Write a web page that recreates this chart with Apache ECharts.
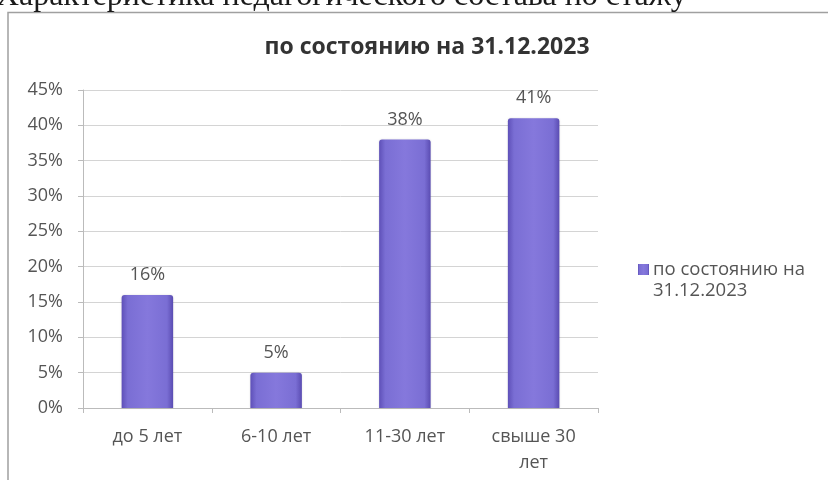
<!DOCTYPE html>
<html><head><meta charset="utf-8">
<script src="https://cdn.jsdelivr.net/npm/echarts@6/dist/echarts.min.js"></script>
<style>html,body{margin:0;padding:0;background:#fff}#c{width:828px;height:480px}</style>
</head><body><div id="c"></div>
<script>
const pageHeading = 'Характеристика педагогического состава по стажу';
const chartTitle = 'по состоянию на 31.12.2023';
const seriesName = 'по состоянию на 31.12.2023';
const legendLines = ['по состоянию на', '31.12.2023'];
const categories = ['до 5 лет', '6-10 лет', '11-30 лет', 'свыше 30 лет'];
const values = [16, 5, 38, 41];
const yTicks = [0, 5, 10, 15, 20, 25, 30, 35, 40, 45];

const chart = echarts.init(document.getElementById('c'), null, {renderer: 'canvas'});
const font = '"Open Sans", "DejaVu Sans", sans-serif';
chart.setOption({
  backgroundColor: '#fff',
  animation: false,
  graphic: [
    {type: 'rect', shape: {x: 8, y: 12.5, width: 840, height: 500}, style: {fill: 'none', stroke: '#a0a0a0', lineWidth: 1.5}, z: 0},
    {type: 'text', x: -4, y: -19, style: {text: pageHeading, font: '32px "Liberation Serif", serif', fill: '#1a1a1a'}, z: 10},
    {type: 'text', x: 653, y: 281, style: {text: legendLines[1], font: '18.5px "Open Sans", sans-serif', fill: '#555'}, z: 10}
  ],
  title: {
    text: chartTitle, left: 422, top: 31, textAlign: 'center',
    textStyle: {fontFamily: font, fontWeight: 'bold', fontSize: 23, color: '#333'}
  },
  legend: {
    data: [seriesName], left: 633, top: 255, orient: 'vertical',
    itemWidth: 11, itemHeight: 11, itemGap: 4,
    icon: 'rect',
    formatter: () => legendLines[0],
    textStyle: {fontFamily: font, fontSize: 18.5, color: '#555', padding: [0, 0, 0, -1]}
  },
  grid: {left: 83, right: 230, top: 90, bottom: 72},
  xAxis: {
    type: 'category', data: categories,
    axisLine: {lineStyle: {color: '#bbb'}},
    axisTick: {show: true, alignWithLabel: false, lineStyle: {color: '#bbb'}, length: 5},
    axisLabel: {fontFamily: font, fontSize: 18, color: '#555', margin: 16, lineHeight: 26,
      formatter: v => v.length > 10 ? v.replace(/ (\S+)$/, '\n$1') : v}
  },
  yAxis: {
    type: 'value', min: 0, max: 45, interval: 5,
    axisLine: {show: true, lineStyle: {color: '#bbb'}},
    axisTick: {show: true, lineStyle: {color: '#bbb'}, length: 5},
    splitLine: {lineStyle: {color: '#d4d4d4'}},
    axisLabel: {fontFamily: font, fontSize: 18, color: '#555', margin: 20,
      formatter: v => yTicks.includes(v) ? v + '%' : ''}
  },
  series: [{
    name: seriesName, type: 'bar', data: values, barWidth: '40%',
    itemStyle: {
      color: new echarts.graphic.LinearGradient(0, 0, 1, 0, [
        {offset: 0, color: '#5e50b8'}, {offset: 0.12, color: '#7a6ed4'},
        {offset: 0.5, color: '#8578dc'}, {offset: 0.88, color: '#7a6ed4'}, {offset: 1, color: '#5a4cb2'}
      ]),
      borderRadius: [3, 3, 0, 0],
      shadowColor: 'rgba(0,0,0,0.15)', shadowBlur: 2
    },
    label: {show: true, position: 'top', distance: 11, fontFamily: font, fontSize: 18, color: '#555',
      formatter: p => p.value + '%'}
  }]
});
</script></body></html>
